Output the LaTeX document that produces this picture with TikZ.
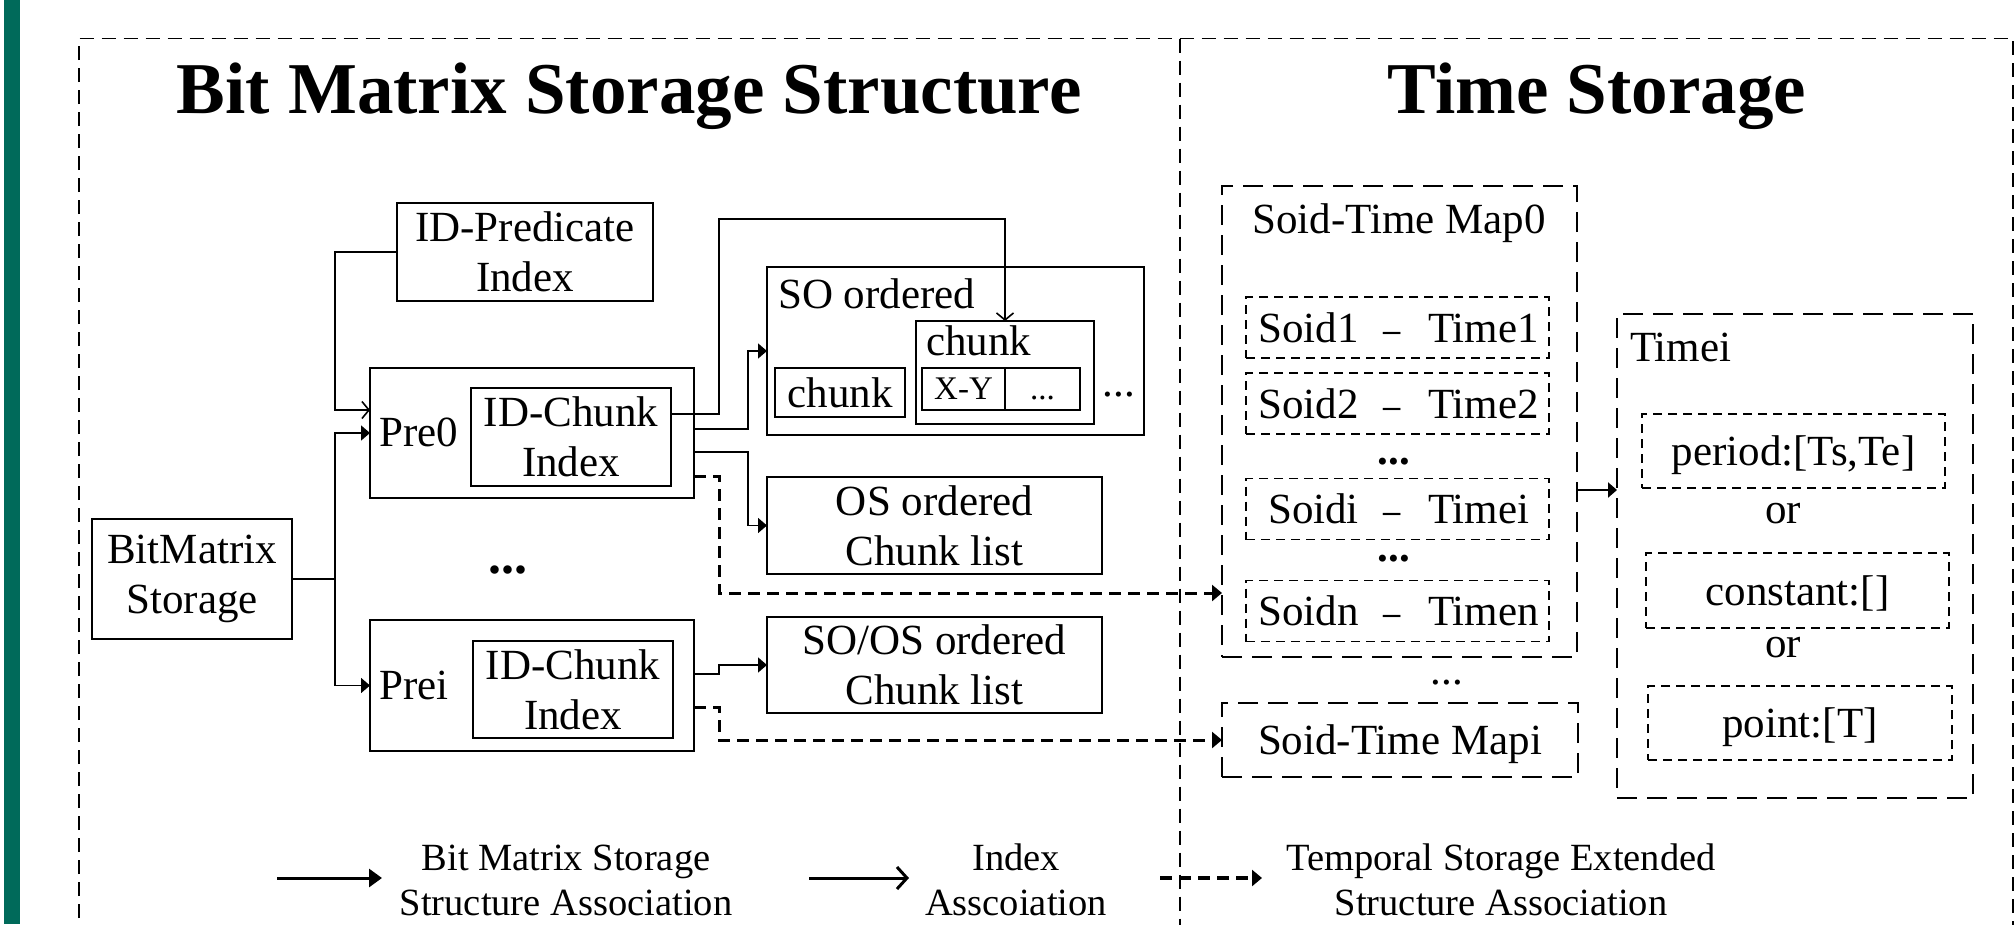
\documentclass[tikz,border=0pt]{standalone}
\usepackage{fontspec}
\setmainfont{Liberation Serif}
\usetikzlibrary{arrows.meta,calc}
\definecolor{stripcol}{RGB}{0,106,90}
\newcommand{\rowtxt}[2]{\makebox[104pt][r]{#1}\hspace{25pt}\raisebox{-1pt}{\scalebox{0.8}[1]{–}}\hspace{27pt}\makebox[112pt][l]{#2}}
\begin{document}
\begin{tikzpicture}[x=1pt,y=-1pt,
  txt/.style={font=\fontsize{43}{50}\selectfont, inner sep=0pt},
  box/.style={draw, line width=1.8pt, inner sep=0pt, outer sep=0pt, align=center, font=\fontsize{43}{50}\selectfont},
  tbox/.style={draw, line width=2.6pt, dash pattern=on 20pt off 10pt, inner sep=0pt, outer sep=0pt, font=\fontsize{43}{50}\selectfont},
  dbox/.style={draw, line width=1.3pt, dash pattern=on 9pt off 6pt, inner sep=0pt, outer sep=0pt, font=\fontsize{43}{50}\selectfont},
  one/.style={text height=29pt, text depth=0pt},
  flow/.style={line width=1.6pt, -{Triangle[length=9pt,width=15pt]}},
  idx/.style={line width=1.6pt, -{Straight Barb[length=7pt,width=17pt]}},
  ext/.style={line width=3pt, dash pattern=on 12pt off 7pt, -{Triangle[length=10pt,width=16pt]}},
  frame/.style={line width=1.4pt, dash pattern=on 14pt off 8pt},
  legtxt/.style={font=\fontsize{38.5}{45}\selectfont, align=center, inner sep=0pt},
]
\useasboundingbox (0,0) rectangle (2016,924);
\clip (0,0) rectangle (2016,924);
\fill[white] (0,0) rectangle (2016,924);
\fill[stripcol] (4,0) rectangle (20,924);

% outer frame
\draw[frame] (79,940) -- (79,38.6) -- (2013,38.6) -- (2013,940);
\draw[frame] (1180,38.6) -- (1180,940);

% titles
\node[font=\fontsize{73}{80}\selectfont\bfseries, anchor=base, inner sep=0pt] (t1) at (629,113) {Bit Matrix Storage Structure};
\node[font=\fontsize{73}{80}\selectfont\bfseries, anchor=base, inner sep=0pt] (t2) at (1597,113) {Time Storage};

% left part
\node[box, minimum width=200, minimum height=120] (bms) at (192,579) {BitMatrix\\Storage};
\node[box, minimum width=256, minimum height=98] (idp) at (525,252) {ID-Predicate\\Index};
\node[box, minimum width=324, minimum height=130] (pre0) at (532,433) {};
\node[txt, anchor=west] (pre0t) at (379,432) {Pre0};
\node[box, minimum width=200, minimum height=98] (ic0) at (571,437) {ID-Chunk\\Index};
\node[box, minimum width=324, minimum height=131] (prei) at (532,685.5) {};
\node[txt, anchor=west] (preit) at (379,685) {Prei};
\node[box, minimum width=200, minimum height=97] (ici) at (573,689.5) {ID-Chunk\\Index};
\node[txt, font=\fontsize{52}{52}\selectfont\bfseries] (pdots) at (508,570) {...};

% SO ordered
\node[box, minimum width=377, minimum height=168] (so) at (955.5,351) {};
\node[txt, anchor=base west] (sot) at (778,308) {SO ordered};
\node[box, minimum width=130, minimum height=49] (ch1) at (840,392.5) {chunk};
\node[box, minimum width=178, minimum height=103] (ch2) at (1005,372.5) {};
\node[txt, anchor=base west] (ch2t) at (926,355) {chunk};
\node[box, minimum width=83, minimum height=42, font=\fontsize{33}{36}\selectfont, text height=20pt, text depth=0pt] (xy) at (963.5,389) {X-Y};
\node[box, minimum width=75, minimum height=42, font=\fontsize{33}{36}\selectfont, text height=20pt, text depth=0pt] (xyd) at (1042.5,389) {...};
\node[txt] (sodots) at (1119,395) {...};

\node[box, minimum width=335, minimum height=97] (os) at (934.5,525.5) {OS ordered\\Chunk list};
\node[box, minimum width=335, minimum height=96] (soos) at (934.5,665) {SO/OS ordered\\Chunk list};

% Soid-Time maps
\node[tbox, minimum width=355, minimum height=471] (map0) at (1399.5,421.5) {};
\node[txt, anchor=base] (map0t) at (1399,233) {Soid-Time Map0};
\node[dbox, one, minimum width=303, minimum height=61] (s1) at (1397.5,327.5) {\rowtxt{Soid1}{Time1}};
\node[dbox, one, minimum width=303, minimum height=61] (s2) at (1397.5,403.5) {\rowtxt{Soid2}{Time2}};
\node[txt, font=\fontsize{43}{50}\selectfont\bfseries] (mdots1) at (1394,462) {...};
\node[dbox, one, minimum width=303, minimum height=61] (si) at (1397.5,509) {\rowtxt{Soidi}{Timei}};
\node[txt, font=\fontsize{43}{50}\selectfont\bfseries] (mdots2) at (1394,559) {...};
\node[dbox, one, minimum width=303, minimum height=61] (sn) at (1397.5,611) {\rowtxt{Soidn}{Timen}};
\node[txt] (mapdots) at (1447,683) {...};
\node[tbox, one, minimum width=356, minimum height=74] (mapi) at (1400,740) {Soid-Time Mapi};

% Timei
\node[tbox, minimum width=356, minimum height=484] (timei) at (1795,556) {};
\node[txt, anchor=base west] (timeit) at (1630,361) {Timei};
\node[dbox, one, minimum width=303, minimum height=74] (per) at (1793.5,451) {period:[Ts,Te]};
\node[txt] (or1) at (1783,514) {or};
\node[dbox, one, minimum width=303, minimum height=75] (con) at (1797.5,590.5) {constant:[]};
\node[txt] (or2) at (1783,648) {or};
\node[dbox, one, minimum width=304, minimum height=74] (pnt) at (1800,723) {point:[T]};

% connectors
\coordinate (trk) at ($(bms.east)+(43,0)$);
\draw[flow] (bms.east) -- (trk) |- (pre0.west);
\draw[flow] (trk) |- (prei.west);
\draw[idx] (idp.west) -- (idp.west -| trk) |- (pre0.west |- 0,410);

\coordinate (jx) at ($(pre0.east)+(25,0)$);
\draw[idx] (ic0.east |- 0,414) -- (jx |- 0,414) -- (jx |- 0,219) -| (ch2.north);
\draw[flow] (pre0.east |- 0,429) -| ($(so.west)+(-19,0)$) -- (so.west);
\draw[flow] (pre0.east |- 0,452) -| ($(os.west)+(-19,0)$) -- (os.west);
\draw[ext] (pre0.east |- 0,476) -| (jx |- 0,593) -- (map0.west |- 0,593);

\draw[flow] (prei.east |- 0,674) -| ($(soos.west)+(-48,0)$) -- (soos.west);
\draw[ext] (prei.east |- 0,707) -| ($(mapi.west)+(-503,0)$) -- (mapi.west);

\draw[flow, line width=2.6pt] (map0.east |- 0,490) -- (timei.west |- 0,490);

% legend
\coordinate (l1a) at (277,878);
\coordinate (l1b) at (382,878);
\draw[line width=3pt, -{Triangle[length=13pt,width=18pt]}] (l1a) -- (l1b);
\node[legtxt] (l1t) at (566,880) {Bit Matrix Storage\\Structure Association};
\coordinate (l2a) at (809,878);
\coordinate (l2b) at (909,878);
\draw[line width=3pt, -{Straight Barb[length=10pt,width=22pt]}] (l2a) -- (l2b);
\node[legtxt] (l2t) at (1016,880) {Index\\Asscoiation};
\coordinate (l3a) at (1160,878);
\coordinate (l3b) at (1262,878);
\draw[ext, line width=3.4pt] (l3a) -- (l3b);
\node[legtxt] (l3t) at (1501,880) {Temporal Storage Extended\\Structure Association};
\end{tikzpicture}
\end{document}
